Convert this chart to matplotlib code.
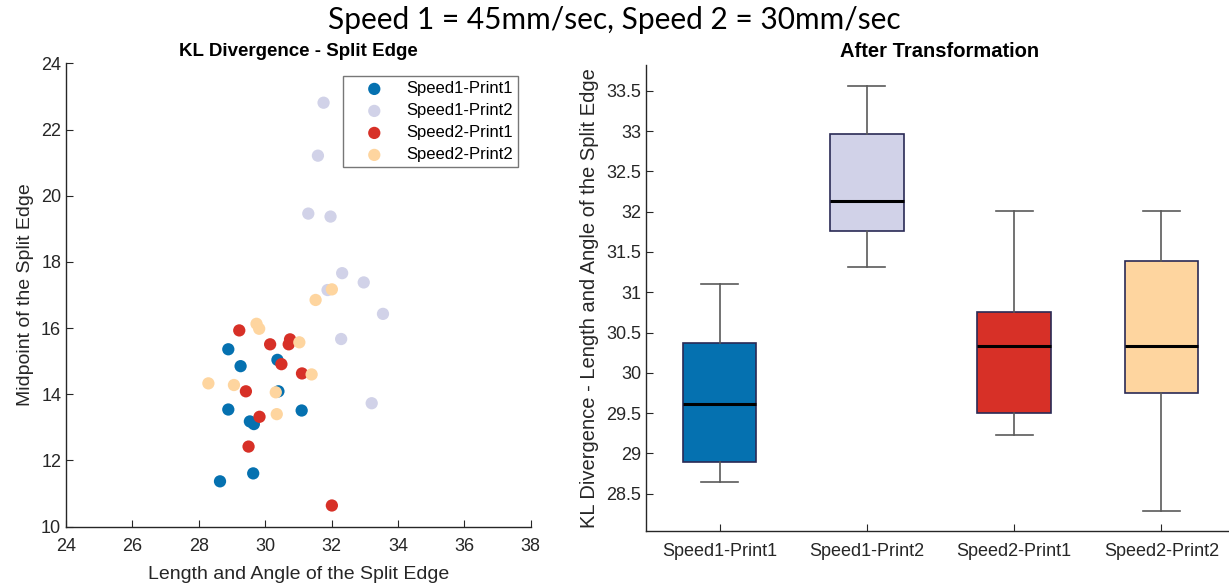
import matplotlib
matplotlib.use("Agg")
import matplotlib.pyplot as plt

plt.rcParams["font.family"] = ["Liberation Sans", "DejaVu Sans"]

# ── Dispersión: longitud/ángulo vs punto medio del borde ─────────────────────
series = ["Speed1-Print1", "Speed1-Print2", "Speed2-Print1", "Speed2-Print2"]
colores = ["#0571B0", "#D1D2E8", "#D73027", "#FED59F"]

s1p1_x = [28.89, 29.26, 30.37, 30.40, 28.89, 31.10, 29.54, 29.66, 29.64, 28.64]
s1p1_y = [15.36, 14.85, 15.04, 14.09, 13.54, 13.51, 13.18, 13.10, 11.61, 11.37]

s1p2_x = [31.76, 31.59, 31.30, 31.97, 32.32, 32.97, 31.88, 33.55, 32.29, 33.21]
s1p2_y = [22.81, 21.21, 19.46, 19.37, 17.66, 17.38, 17.15, 16.43, 15.67, 13.73]

s2p1_x = [29.22, 30.15, 30.75, 30.71, 30.49, 31.11, 29.42, 29.83, 29.50, 32.01]
s2p1_y = [15.93, 15.51, 15.66, 15.51, 14.91, 14.63, 14.09, 13.32, 12.42, 10.64]

s2p2_x = [32.01, 31.52, 29.74, 29.82, 31.03, 31.40, 28.29, 29.06, 30.32, 30.35]
s2p2_y = [17.17, 16.85, 16.13, 15.98, 15.57, 14.60, 14.33, 14.28, 14.06, 13.40]

# ── Boxplot tras la transformación (whisker bajo, Q1, mediana, Q3, whisker alto)
caja_wlo = [28.64, 31.31, 29.23, 28.29]
caja_q1 = [28.89, 31.76, 29.50, 29.75]
caja_med = [29.61, 32.13, 30.33, 30.33]
caja_q3 = [30.37, 32.97, 30.76, 31.39]
caja_whi = [31.10, 33.56, 32.01, 32.01]

GRIS = "#262626"


def _estilo_ejes(ax):
    ax.spines["top"].set_visible(False)
    ax.spines["right"].set_visible(False)
    for s in ("left", "bottom"):
        ax.spines[s].set_color(GRIS)
        ax.spines[s].set_linewidth(1.0)
    ax.tick_params(direction="in", length=5, width=0.8, colors=GRIS,
                   labelsize=13, labelcolor=GRIS)


fig = plt.figure(figsize=(12.29, 5.88), dpi=100)
fig.text(0.4997, 0.966, "Speed 1 = 45mm/sec, Speed 2 = 30mm/sec",
         ha="center", va="center", fontsize=21.5,
         family=["Lato", "DejaVu Sans"])

# Panel izquierdo
ax1 = fig.add_axes([0.0537, 0.1043, 0.3781, 0.7880])
puntos = [(s1p1_x, s1p1_y), (s1p2_x, s1p2_y), (s2p1_x, s2p1_y), (s2p2_x, s2p2_y)]
for (xs, ys), nombre, c in zip(puntos, series, colores):
    ax1.scatter(xs, ys, s=78, color=c, edgecolors="none", label=nombre, zorder=3)
ax1.set_xlim(24, 38)
ax1.set_ylim(10, 24)
ax1.set_xticks(range(24, 39, 2))
ax1.set_yticks(range(10, 25, 2))
_estilo_ejes(ax1)
ax1.tick_params(axis="x", pad=8)
ax1.set_xlabel("Length and Angle of the Split Edge", fontsize=14, color=GRIS, labelpad=8)
ax1.set_ylabel("Midpoint of the Split Edge", fontsize=14, color=GRIS, labelpad=5)
ax1.set_title("KL Divergence - Split Edge", fontsize=13.5, fontweight="bold", pad=5)
leg = ax1.legend(loc="upper right", bbox_to_anchor=(0.99, 0.99), fontsize=12,
                 frameon=True, fancybox=False, edgecolor="#555555",
                 handletextpad=0.3, borderpad=0.3, labelspacing=0.42,
                 markerscale=1.0, handlelength=3.2)
leg.get_frame().set_linewidth(1.0)

# Panel derecho
ax2 = fig.add_axes([0.5256, 0.0974, 0.4793, 0.7920])
stats = []
for i, nombre in enumerate(series):
    stats.append({
        "label": nombre,
        "whislo": caja_wlo[i], "q1": caja_q1[i], "med": caja_med[i],
        "q3": caja_q3[i], "whishi": caja_whi[i], "fliers": [],
    })
bp = ax2.bxp(stats, positions=[1, 2, 3, 4], widths=0.5, patch_artist=True,
             showfliers=False,
             boxprops=dict(edgecolor="#2a2a55", linewidth=1.2),
             whiskerprops=dict(color="#5a5a5a", linewidth=1.2),
             capprops=dict(color="#5a5a5a", linewidth=1.2),
             medianprops=dict(color="black", linewidth=2.2))
for caja, c in zip(bp["boxes"], colores):
    caja.set_facecolor(c)
ax2.set_xlim(0.5, 4.5)
ax2.set_ylim(28.04, 33.82)
ax2.set_yticks([28.5, 29, 29.5, 30, 30.5, 31, 31.5, 32, 32.5, 33, 33.5])
ax2.set_yticklabels(["28.5", "29", "29.5", "30", "30.5", "31", "31.5",
                     "32", "32.5", "33", "33.5"])
_estilo_ejes(ax2)
ax2.tick_params(axis="x", pad=9)
ax2.set_ylabel("KL Divergence - Length and Angle of the Split Edge",
               fontsize=14.5, color=GRIS, labelpad=5)
ax2.set_title("After Transformation", fontsize=14.5, fontweight="bold",
              x=0.4985, pad=6)

fig.savefig("out.png", dpi=100)
